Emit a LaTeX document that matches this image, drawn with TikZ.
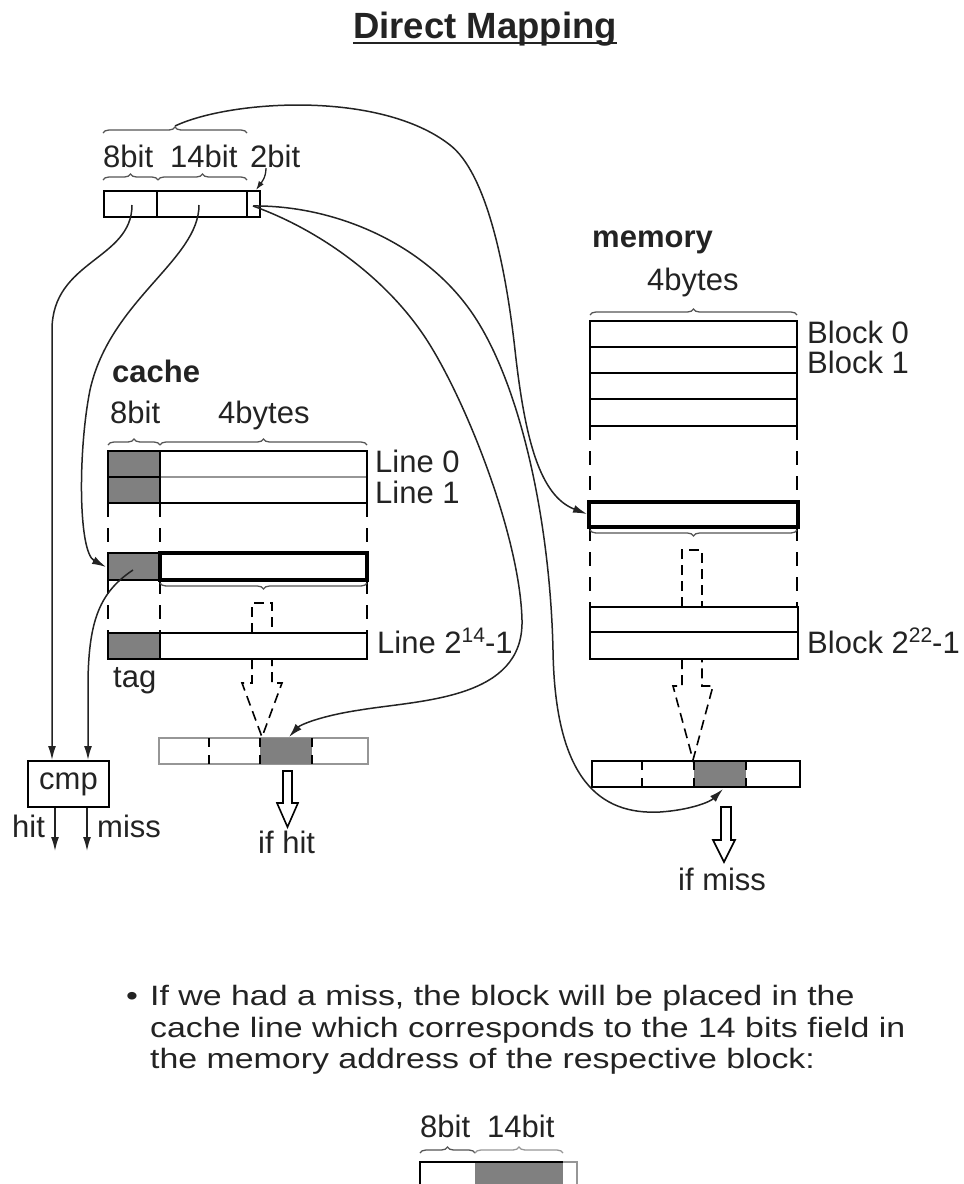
\documentclass[tikz,border=0pt]{standalone}
\usepackage{graphicx}
\usepackage{fontspec}
\setmainfont{Liberation Sans}
\usetikzlibrary{arrows.meta,decorations.pathreplacing}

\definecolor{cellgrey}{RGB}{128,128,128}
\definecolor{ink}{RGB}{35,35,35}
\definecolor{bracegrey}{RGB}{85,85,85}
\definecolor{softline}{RGB}{150,150,150}

\newcommand\lblfont{\fontsize{31}{36}\selectfont}
\newcommand\txtfont{\fontsize{28}{32}\selectfont}
\newcommand\titlefont{\fontsize{36.5}{40}\selectfont\bfseries}
\newcommand\supnum[1]{\raisebox{11pt}{\fontsize{21}{21}\selectfont #1}}
\newcommand\wide[1]{\scalebox{1.21}[1]{#1}}

\begin{document}
\begin{tikzpicture}[x=1pt,y=-1pt,
  lbl/.style={inner sep=0pt, anchor=base west, font=\lblfont, text=ink},
  txt/.style={inner sep=0pt, anchor=base west, font=\txtfont, text=ink},
  cell/.style={draw=black, line width=1.8pt},
  tagcell/.style={cell, fill=cellgrey},
  selcell/.style={draw=black, line width=4pt},
  sideline/.style={line width=1.8pt, dash pattern=on 14pt off 11pt},
  stemline/.style={line width=1.6pt, dash pattern=on 10pt off 6pt},
  divline/.style={line width=1.8pt, dash pattern=on 9pt off 8pt},
  conn/.style={line width=1.5pt, draw=ink, -{Latex[length=14pt,width=8pt]}},
  smallconn/.style={line width=1.3pt, draw=ink, -{Latex[length=9pt,width=6pt]}},
  bracestyle/.style={decorate, decoration={brace, amplitude=6pt}, line width=1.3pt, draw=bracegrey},
  hollow/.style={draw=black, line width=1.6pt, fill=white, line join=miter},
]
\useasboundingbox (0,0) rectangle (964,1184);

% ---------- title ----------
\node[inner sep=0pt, anchor=base, font=\titlefont, text=ink] (title) at (485,38) {Direct Mapping};
\draw[line width=2.6pt, ink] ([yshift=-5pt]title.base west) -- ([yshift=-5pt]title.base east);

% ---------- address (8bit | 14bit | 2bit) ----------
\node[lbl] (l8)  at (103,167) {8bit};
\node[lbl] (l14) at (170,167) {14bit};
\node[lbl] (l2)  at (250,167) {2bit};
\draw[bracestyle] (103,133) -- (247,133);
\draw[bracestyle] (103,180) -- (158,180);
\draw[bracestyle] (158,180) -- (247,180);
\draw[cell] (104,191) rectangle (260,217);
\draw[cell] (157,191) -- (157,217);
\draw[cell] (247,191) -- (247,217);

\coordinate (bracetip) at (175,126);
\coordinate (a8)  at (132,205);
\coordinate (a14) at (199,205);
\coordinate (a2)  at (253,206);
\coordinate (lbl2bit) at (266,168);
\coordinate (a2top) at (256,190);

% ---------- cache ----------
\node[inner sep=0pt, anchor=base west, font=\lblfont\bfseries, text=ink] (cachelbl) at (112,382) {cache};
\node[lbl] (c8) at (110,423) {8bit};
\node[lbl] (c4) at (218,423) {4bytes};
\draw[bracestyle] (108,445) -- (160,445);
\draw[bracestyle] (160,445) -- (367,445);

% lines 0 and 1
\draw[tagcell] (108,451) rectangle (160,477);
\draw[tagcell] (108,477) rectangle (160,503);
\draw[cell] (160,451) rectangle (367,503);
\draw[softline, line width=1.8pt] (161,477) -- (366,477);
\node[lbl] at (375,472) {Line 0};
\node[lbl] at (375,503) {Line 1};

% elided rows
\foreach \xx in {108,160,367} {
  \draw[sideline] (\xx,503) -- (\xx,553);
  \draw[sideline] (\xx,580) -- (\xx,633);
}

% selected line
\draw[tagcell] (108,553) rectangle (160,580);
\draw[selcell] (160,553) rectangle (367,580);
\draw[bracestyle] (367,583) -- (160,583);
\coordinate (selline) at (106,567);
\coordinate (seltag) at (133,570);

% last line
\draw[tagcell] (108,633) rectangle (160,659);
\draw[cell] (160,633) rectangle (367,659);
\node[lbl] at (377,653) {Line 2\supnum{14}-1};
\node[lbl] at (113,687) {tag};

% dashed transfer arrow (cache)
\draw[stemline] (252,633) -- (252,603) -- (272,603) -- (272,633);
\draw[stemline] (252,659) -- (252,683) -- (242,683) -- (262,737) -- (282,683) -- (272,683) -- (272,659);

% word selected from the cache line
\draw[softline, line width=1.8pt] (159,738) rectangle (368,764);
\fill[cellgrey] (260,738) rectangle (312,764);
\foreach \xx in {209,260,312} \draw[divline] (\xx,738) -- (\xx,764);
\coordinate (hitcell) at (289,737);
\draw[hollow] (283,771) -- (292,771) -- (292,803) -- (298,803) -- (287.5,827) -- (277,803) -- (283,803) -- cycle;
\node[lbl] at (258,853) {if hit};

% comparator
\node[draw=black, line width=1.8pt, minimum width=81pt, minimum height=46pt, inner sep=0pt, font=\lblfont, text=ink] (cmp) at (68.5,784) {cmp};
\coordinate (cmpinL) at (52,760);
\coordinate (cmpinR) at (88,760);
\coordinate (hitend) at (55,851);
\coordinate (missend) at (87,851);
\draw[conn] ([xshift=-13.5pt]cmp.south) -- (hitend);
\draw[conn] ([xshift=18.5pt]cmp.south) -- (missend);
\node[lbl] at (12,837) {hit};
\node[lbl] at (97,837) {miss};

% ---------- memory ----------
\node[inner sep=0pt, anchor=base west, font=\lblfont\bfseries, text=ink] (memlbl) at (592,247) {memory};
\node[lbl] (m4) at (647,290) {4bytes};
\draw[bracestyle] (590,315) -- (797,315);
\draw[cell] (590,321) rectangle (797,426);
\foreach \yy in {347,373,399} \draw[cell] (590,\yy) -- (797,\yy);
\node[lbl] at (807,343) {Block 0};
\node[lbl] at (807,373) {Block 1};

\foreach \xx in {590,797} {
  \draw[sideline] (\xx,426) -- (\xx,502);
  \draw[sideline] (\xx,527) -- (\xx,607);
}

% selected block
\draw[selcell] (589,502) rectangle (798,527);
\draw[bracestyle] (797,530) -- (590,530);
\coordinate (selblock) at (587,514);

% last blocks
\draw[cell] (590,607) rectangle (798,659);
\draw[cell] (590,632) -- (798,632);
\node[lbl] at (807,653) {Block 2\supnum{22}-1};

% dashed transfer arrow (memory)
\draw[stemline] (682,607) -- (682,550) -- (702,550) -- (702,607);
\draw[stemline] (682,659) -- (682,686) -- (673,686) -- (693,760) -- (713,686) -- (702,686) -- (702,659);

% word selected from the memory block
\draw[cell] (592,761) rectangle (800,787);
\fill[cellgrey] (694,762) rectangle (746,786);
\foreach \xx in {642,694,746} \draw[divline] (\xx,761) -- (\xx,787);
\coordinate (misscell) at (723,789);
\draw[hollow] (721,807) -- (731,807) -- (731,840) -- (735,840) -- (724,862) -- (713,840) -- (721,840) -- cycle;
\node[lbl] at (678,890) {if miss};

% ---------- connectors ----------
\draw[conn] (bracetip) .. controls (230,100) and (380,90) .. (450,145)
  .. controls (485,172) and (505,260) .. (515,350)
  .. controls (525,440) and (540,496) .. (selblock);
\draw[conn] (a2) .. controls (330,205) and (420,240) .. (470,310)
  .. controls (520,380) and (550,520) .. (553,650)
  .. controls (555,780) and (600,815) .. (660,812)
  .. controls (690,810) and (710,802) .. (misscell);
\draw[conn] (a2) .. controls (320,230) and (390,280) .. (430,345)
  .. controls (470,410) and (520,540) .. (522,620)
  .. controls (524,700) and (420,700) .. (360,710)
  .. controls (320,716) and (300,725) .. (hitcell);
\draw[conn] (a8) .. controls (132,260) and (52,260) .. (52,330) -- (cmpinL);
\draw[conn] (a14) .. controls (199,260) and (110,300) .. (90,390)
  .. controls (78,450) and (78,552) .. (selline);
\draw[conn] (seltag) .. controls (100,592) and (89,620) .. (88,680) -- (cmpinR);
\draw[smallconn] (lbl2bit) .. controls (266,178) and (261,183) .. (a2top);

% ---------- note ----------
\node[txt] at (126,1005) {\wide{\textbullet}};
\node[txt] at (150,1005) {\wide{If we had a miss, the block will be placed in the}};
\node[txt] at (150,1037) {\wide{cache line which corresponds to the 14 bits field in}};
\node[txt] at (150,1068) {\wide{the memory address of the respective block:}};

\node[lbl] at (420,1137) {8bit};
\node[lbl] at (487,1137) {14bit};
\draw[bracestyle] (420,1153) -- (475,1153);
\draw[bracestyle, draw=softline] (475,1153) -- (563,1153);
\fill[cellgrey] (475,1163) rectangle (563,1200);
\draw[softline, line width=1.8pt] (563,1162) -- (577,1162) -- (577,1200);
\draw[black, line width=1.8pt] (420,1200) -- (420,1162) -- (563,1162);
\end{tikzpicture}
\end{document}
